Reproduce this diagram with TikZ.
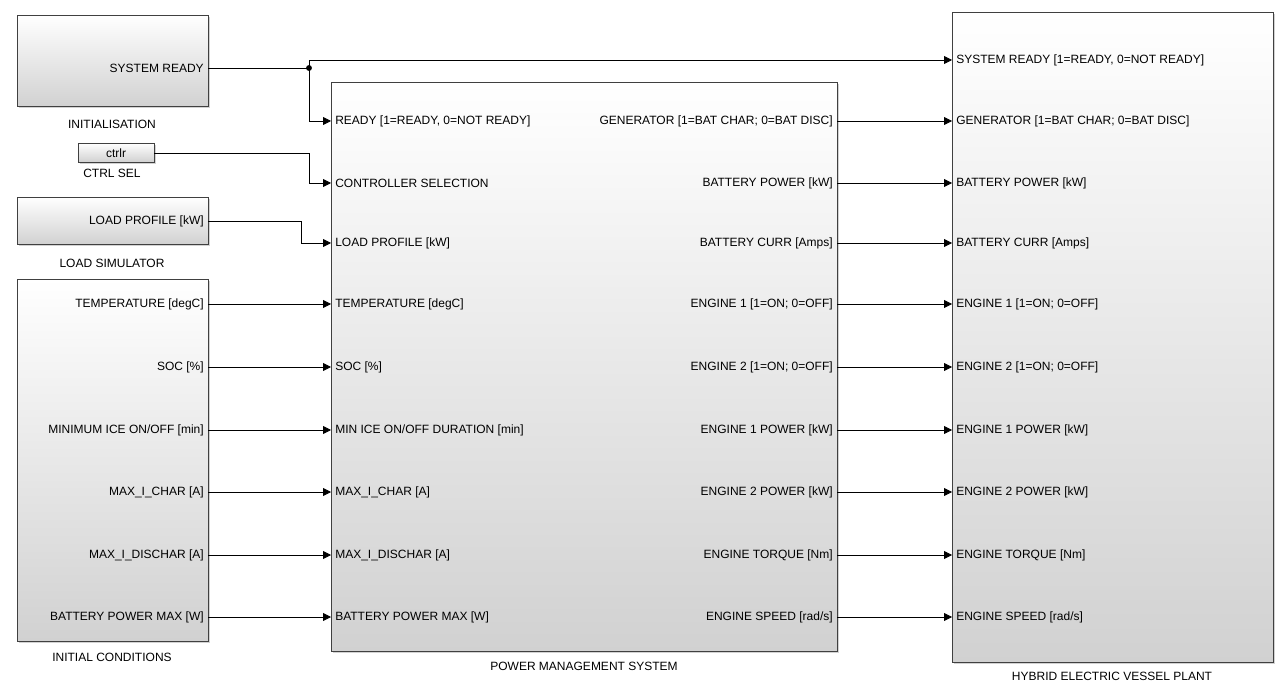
\documentclass[tikz,border=0pt]{standalone}
\usepackage{fontspec}
\setmainfont{Liberation Sans}
\usetikzlibrary{arrows.meta,shadows}
\begin{document}
\begin{tikzpicture}[x=0.75pt,y=-0.75pt,
 blk/.style={draw=black!75,line width=0.6pt,top color=white,bottom color=black!18,drop shadow={shadow xshift=1.2pt,shadow yshift=-1.2pt,opacity=0.35}},
 lbl/.style={font=\fontsize{9}{11}\selectfont,inner sep=1.5pt},
 wire/.style={line width=0.6pt,-{Triangle[length=6pt,width=6pt]}},
 captxt/.style={font=\fontsize{9}{11}\selectfont}]
\useasboundingbox (0,0) rectangle (1288,691);
\fill[white] (0,0) rectangle (1288,691);
% blocks
\path[blk] (17,15) rectangle (208,106);
\path[blk] (78,143) rectangle (154,162);
\path[blk] (17,197) rectangle (208,244);
\path[blk] (17,279) rectangle (208,641);
\path[blk] (331,82) rectangle (837,651);
\path[blk] (952,12) rectangle (1273,662);
\node[captxt] (c1) at (112,124) {INITIALISATION};
\node[captxt] (c2) at (112,173) {CTRL SEL};
\node[captxt] (c3) at (112,263) {LOAD SIMULATOR};
\node[captxt] (c4) at (112,657) {INITIAL CONDITIONS};
\node[captxt] (c5) at (584,666) {POWER MANAGEMENT SYSTEM};
\node[captxt] (c6) at (1112,676) {HYBRID ELECTRIC VESSEL PLANT};
\node[lbl] (ctrl) at (116,153) {ctrlr};
% source ports
\node[lbl,anchor=east] (sr) at (206,68) {SYSTEM READY};
\node[lbl,anchor=east] (lp) at (206,221) {LOAD PROFILE [kW]};
\foreach \n/\y/\t in {a/304/{TEMPERATURE [degC]},b/367/{SOC [\%]},c/430/{MINIMUM ICE ON/OFF [min]},d/492/{MAX\_I\_CHAR [A]},e/555/{MAX\_I\_DISCHAR [A]},f/617/{BATTERY POWER MAX [W]}}
  \node[lbl,anchor=east] (ic\n) at (206,\y) {\t};
% PMS inputs
\foreach \n/\y/\t in {1/121/{READY [1=READY, 0=NOT READY]},2/183/{CONTROLLER SELECTION},3/243/{LOAD PROFILE [kW]},4/304/{TEMPERATURE [degC]},5/367/{SOC [\%]},6/430/{MIN ICE ON/OFF DURATION [min]},7/492/{MAX\_I\_CHAR [A]},8/555/{MAX\_I\_DISCHAR [A]},9/617/{BATTERY POWER MAX [W]}}
  \node[lbl,anchor=west] (pi\n) at (333,\y) {\t};
% PMS outputs and plant inputs
\foreach \n/\y/\t in {1/121/{GENERATOR [1=BAT CHAR; 0=BAT DISC]},2/183/{BATTERY POWER [kW]},3/243/{BATTERY CURR [Amps]},4/304/{ENGINE 1 [1=ON; 0=OFF]},5/367/{ENGINE 2 [1=ON; 0=OFF]},6/430/{ENGINE 1 POWER [kW]},7/492/{ENGINE 2 POWER [kW]},8/555/{ENGINE TORQUE [Nm]},9/617/{ENGINE SPEED [rad/s]}}{
  \node[lbl,anchor=east] (po\n) at (835,\y) {\t};
  \node[lbl,anchor=west] (hi\n) at (954,\y) {\t};
  \draw[wire] (837,\y) -- (952,\y);}
\node[lbl,anchor=west] (hi0) at (954,60) {SYSTEM READY [1=READY, 0=NOT READY]};
% wires
\coordinate (j) at (309,68);
\fill (j) circle (2.2pt);
\draw[line width=0.6pt] (208,68) -- (j);
\draw[wire] (j) |- (952,60);
\draw[wire] (j) |- (331,121);
\draw[wire] (154,153) -| (309,183) -- (331,183);
\draw[wire] (208,221) -| (301,243) -- (331,243);
\foreach \y in {304,367,430,492,555,617} \draw[wire] (208,\y) -- (331,\y);
\end{tikzpicture}
\end{document}
